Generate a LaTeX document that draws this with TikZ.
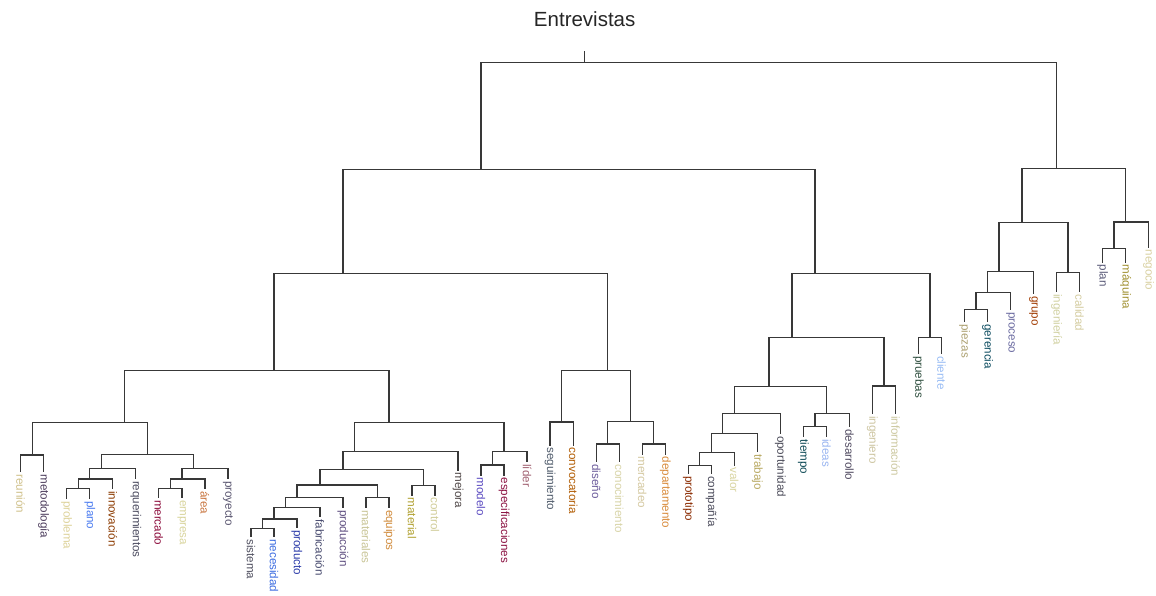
\documentclass[tikz,border=0pt]{standalone}
\usepackage{fontspec}
\setmainfont{Liberation Sans}
\newcommand{\leafx}[1]{20.7+23.02*(#1-1)}
\begin{document}
\begin{tikzpicture}[x=1pt,y=-1pt,
  branch/.style={draw=black!78, line width=1.35pt, line cap=rect},
  leaflabel/.style={rotate=-90, anchor=west, inner sep=2.5pt,
    font=\fontsize{11.6}{12}\selectfont}]
\useasboundingbox (0,0) rectangle (1156,595);

% title
\node[font=\fontsize{20.5}{22}\selectfont, text=black!85] (title) at ({\leafx{25.5}},19) {Entrevistas};

% leaves: index / word / end of leaf stem / label colour
\foreach \i/\w/\e/\c in {
  1/reunión/471.7/CFC08A, 2/metodología/471.7/4B3B5B,
  3/problema/498.3/DDD29A, 4/plano/498.3/4A7BF0,
  5/innovación/488.3/8B3A00, 6/requerimientos/478.3/4A4A5E,
  7/mercado/497.3/8B0A3A, 8/empresa/497.3/D8D49C,
  9/área/488.3/C8743E, 10/proyecto/478.3/5A5670,
  11/sistema/536.7/505060, 12/necesidad/536.7/3B6BE0,
  13/producto/527.3/2A3AA8, 14/fabricación/516.7/474A6E,
  15/producción/507.3/5E4E80, 16/materiales/507.3/C8C496,
  17/equipos/507.3/D08A3A, 18/material/495/B0A030,
  19/control/495/D0CC98, 20/mejora/470/504848,
  21/modelo/475/5A4AC0, 22/especificaciones/475/8A1040,
  23/líder/461.7/A06070, 24/seguimiento/445/4E5A6A,
  25/convocatoria/445/B05A00, 26/diseño/461.7/6A5A9A,
  27/conocimiento/461.7/D8D4A8, 28/mercadeo/454/D4C8A0,
  29/departamento/454/D88A3A, 30/prototipo/473.3/8A2A00,
  31/compañía/473.3/4A4A5A, 32/valor/465/D8D4A0,
  33/trabajo/451.7/B8A860, 34/oportunidad/433.3/4A4A58,
  35/tiempo/436.7/0E4A56, 36/ideas/436.7/98B4F0,
  37/desarrollo/426.7/504A60, 38/ingeniero/413.3/CCC4A0,
  39/información/413.3/CCC8A0, 40/pruebas/353.3/2E4E3E,
  41/cliente/353.3/98BCF4, 42/piezas/321.7/ACA070,
  43/gerencia/321.7/0A4A5E, 44/proceso/309.3/6A6AA0,
  45/grupo/293.3/A03A00, 46/ingeniería/291.7/D0D0A0,
  47/calidad/291.7/D4CCA0, 48/plan/262/5A5A78,
  49/máquina/262/A09030, 50/negocio/247/D8D0A0}{
  \coordinate (L\i) at ({\leafx{\i}},\e);
  \node[leaflabel] (T\i) at (L\i) {\textcolor[HTML]{\c}{\w}};
}

% merge points: name / mean leaf index / height
\foreach \n/\m/\h in {
  root/25.5/62.7, nA/21/169.3, nB/46/168.3,
  nAa/15/273.3, nAb/35.5/273.3,
  nAaa/12/370.7, nAab/26.5/370.7,
  nAt/5.5/422.7, nAu/1.5/455, nAv/6.5/454.3,
  nBc/4.5/468.3, nBd/4/479, nBe/3.5/488.8,
  nCc/8.5/468.3, nCd/8/479, nCe/7.5/488.3,
  nDa/17/422.7, nDb/15.5/451.7, nDc/15/469.3, nDd/14/485,
  nDe/18.5/485.7, nDf/13/497.3, nDg/16.5/497.3,
  nDh/12.5/507.7, nDi/12/519, nDj/11.5/528.3,
  nEa/22/451.7, nEb/21.5/465,
  nFa/24.5/422, nFb/27.5/421.7, nFc/26.5/444, nFd/28.5/444,
  nGa/34.5/337.3, nGb/40.5/337.3, nGc/33.5/386.7, nGd/38.5/386,
  nGe/32/413.3, nGf/36/413.3, nGg/31.5/433.3, nGh/35.5/426.7,
  nGi/31/452.7, nGj/30.5/465.7,
  nHa/44.5/222.3, nHb/49/222, nHc/43.5/271.7, nHd/46.5/272.3,
  nHe/43/292.7, nHf/42.5/309.3, nHg/48.5/248.3}{
  \coordinate (\n) at ({\leafx{\m}},\h);
}
\coordinate (top) at ({\leafx{25.5}},52);

% elbows: parent / left child / right child
\foreach \p/\l/\r in {
  root/nA/nB, nA/nAa/nAb, nAa/nAaa/nAab, nAaa/nAt/nDa,
  nAt/nAu/nAv, nAu/L1/L2, nAv/nBc/nCc,
  nBc/nBd/L6, nBd/nBe/L5, nBe/L3/L4,
  nCc/nCd/L10, nCd/nCe/L9, nCe/L7/L8,
  nDa/nDb/nEa, nDb/nDc/L20, nDc/nDd/nDe, nDd/nDf/nDg,
  nDf/nDh/L15, nDh/nDi/L14, nDi/nDj/L13, nDj/L11/L12,
  nDg/L16/L17, nDe/L18/L19, nEa/nEb/L23, nEb/L21/L22,
  nAab/nFa/nFb, nFa/L24/L25, nFb/nFc/nFd, nFc/L26/L27, nFd/L28/L29,
  nAb/nGa/nGb, nGa/nGc/nGd, nGc/nGe/nGf, nGe/nGg/L34,
  nGg/nGi/L33, nGi/nGj/L32, nGj/L30/L31,
  nGf/nGh/L37, nGh/L35/L36, nGd/L38/L39, nGb/L40/L41,
  nB/nHa/nHb, nHa/nHc/nHd, nHc/nHe/L45, nHe/nHf/L44,
  nHf/L42/L43, nHd/L46/L47, nHb/nHg/L50, nHg/L48/L49}{
  \draw[branch] (\l) |- (\p) -| (\r);
}
\draw[branch] (root) -- (top);
\end{tikzpicture}
\end{document}
